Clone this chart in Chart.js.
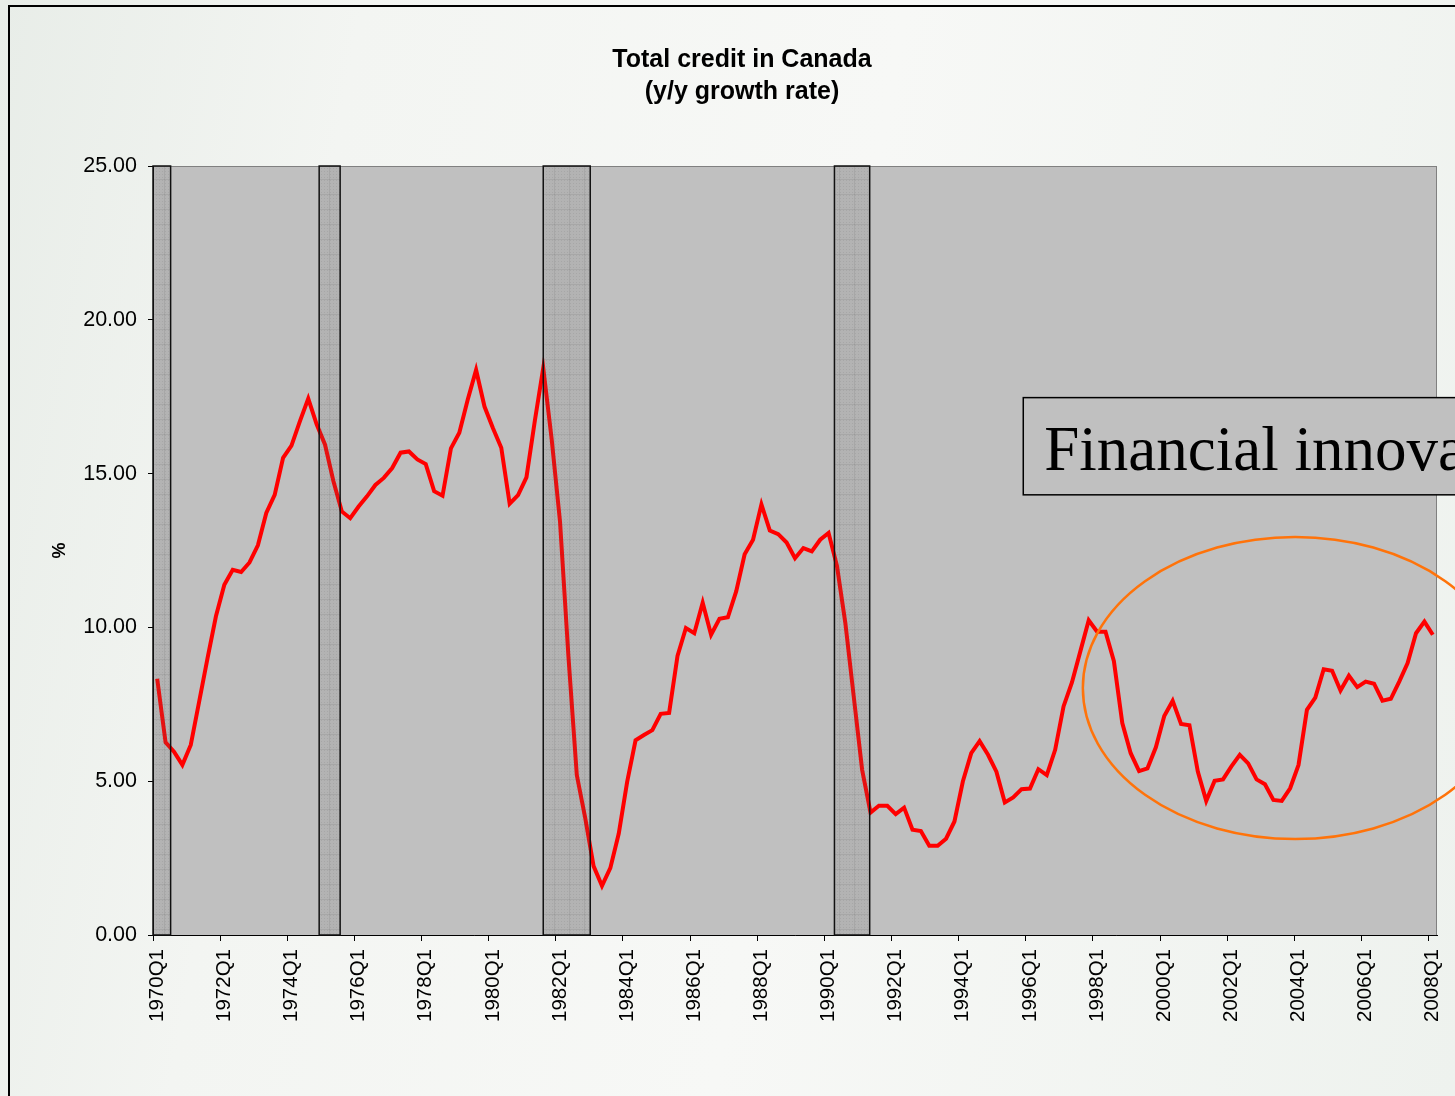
<!DOCTYPE html>
<html>
<head>
<meta charset="utf-8">
<title>Total credit in Canada</title>
<script src="https://cdn.jsdelivr.net/npm/chart.js@4.4.1/dist/chart.umd.min.js"></script>
<style>
  html, body { margin: 0; padding: 0; overflow: hidden; }
  body {
    width: 1455px;
    height: 1096px;
    background: linear-gradient(100deg, #e8ede8 0%, #f3f5f2 22%, #f7f8f6 55%, #eef2ee 100%);
  }
  #wrap { position: relative; width: 1455px; height: 1096px; }
</style>
</head>
<body>
<div id="wrap"><canvas id="creditChart" width="1455" height="1096"></canvas></div>
<script>
// quarterly axis, 1970Q1 .. 2008Q1
const startYear = 1970;
const endYear = 2008;
const quarters = [];
for (let y = startYear; y <= endYear; y++) {
  for (let q = 1; q <= 4; q++) {
    if (y === endYear && q > 1) break;
    quarters.push(y + "Q" + q);
  }
}

// total credit, y/y growth in %, one row per two years
const creditGrowth = [
  8.33, 6.26, 5.96, 5.53, 6.18, 7.59, 9.00, 10.36,
  11.39, 11.87, 11.80, 12.11, 12.67, 13.72, 14.31, 15.51,
  15.91, 16.70, 17.44, 16.60, 15.94, 14.75, 13.77, 13.55,
  13.93, 14.26, 14.63, 14.86, 15.18, 15.68, 15.72, 15.46,
  15.31, 14.43, 14.28, 15.82, 16.33, 17.40, 18.37, 17.18,
  16.48, 15.84, 14.02, 14.30, 14.88, 16.72, 18.43, 16.13,
  13.44, 9.07, 5.20, 3.81, 2.24, 1.60, 2.18, 3.30,
  4.98, 6.33, 6.50, 6.66, 7.19, 7.22, 9.07, 9.98,
  9.81, 10.80, 9.76, 10.28, 10.33, 11.18, 12.38, 12.85,
  14.00, 13.15, 13.03, 12.76, 12.25, 12.58, 12.47, 12.85,
  13.07, 12.00, 10.14, 7.75, 5.37, 3.98, 4.20, 4.20,
  3.93, 4.14, 3.42, 3.38, 2.90, 2.90, 3.13, 3.69,
  4.99, 5.91, 6.30, 5.86, 5.31, 4.31, 4.47, 4.74,
  4.76, 5.39, 5.20, 6.02, 7.43, 8.21, 9.22, 10.23,
  9.86, 9.86, 8.90, 6.89, 5.91, 5.33, 5.42, 6.10,
  7.12, 7.61, 6.86, 6.82, 5.31, 4.36, 5.01, 5.06,
  5.48, 5.86, 5.58, 5.06, 4.90, 4.39, 4.36, 4.77,
  5.53, 7.32, 7.72, 8.64, 8.59, 7.95, 8.43, 8.06,
  8.24, 8.17, 7.62, 7.68, 8.24, 8.84, 9.81, 10.19,
  9.76
];

// every second year gets a label
const tickLabels = quarters.filter((q, i) => i % 8 === 0);
const yTicks = [0, 5, 10, 15, 20, 25];

// recession periods, as positions on the quarter axis
const recessionStart = [-0.5, 19.3, 46.0, 80.7];
const recessionEnd = [1.6, 21.8, 51.6, 84.9];

const noteText = "Financial innovation";

// small tile for the hatched recession fill
function bandTile() {
  const t = document.createElement("canvas");
  t.width = 15; t.height = 15;
  const c = t.getContext("2d");
  c.fillStyle = "rgba(105,105,105,0.15)";
  c.fillRect(0, 0, 15, 15);
  c.fillStyle = "rgba(60,60,60,0.10)";
  c.fillRect(14, 0, 1, 15);
  c.fillRect(0, 14, 15, 1);
  for (let i = 0; i < 15; i += 3) {
    for (let j = 0; j < 15; j += 3) c.fillRect(i, j, 1, 1);
  }
  return t;
}

const plotBackdrop = {
  id: "plotBackdrop",
  beforeDraw(chart) {
    const { ctx, chartArea: a } = chart;
    ctx.save();
    ctx.strokeStyle = "#000";
    ctx.lineWidth = 2;
    ctx.strokeRect(9, 6, 1700, 1300);
    ctx.fillStyle = "#c0c0c0";
    ctx.fillRect(a.left, a.top, a.width, a.height);
    ctx.strokeStyle = "#808080";
    ctx.lineWidth = 1;
    ctx.strokeRect(a.left + 0.5, a.top + 0.5, a.width - 1, a.height);
    ctx.restore();
  },
  afterDatasetsDraw(chart) {
    const { ctx, chartArea: a, scales: { x } } = chart;
    const pat = ctx.createPattern(bandTile(), "repeat");
    ctx.save();
    recessionStart.forEach((s, k) => {
      const x0 = x.getPixelForValue(s);
      const x1 = x.getPixelForValue(recessionEnd[k]);
      ctx.fillStyle = pat;
      ctx.fillRect(x0, a.top, x1 - x0, a.height);
      ctx.strokeStyle = "#111";
      ctx.lineWidth = 1.5;
      ctx.strokeRect(x0, a.top, x1 - x0, a.height);
    });
    ctx.restore();
  },
  afterDraw(chart) {
    const { ctx, scales: { x, y } } = chart;
    ctx.save();
    // callout box, anchored in axis units
    const bx = x.getPixelForValue(103.2);
    const bTop = y.getPixelForValue(17.47);
    const bBot = y.getPixelForValue(14.31);
    ctx.fillStyle = "#c0c0c0";
    ctx.fillRect(bx, bTop, 600, bBot - bTop);
    ctx.strokeStyle = "#000";
    ctx.lineWidth = 1.5;
    ctx.strokeRect(bx, bTop, 600, bBot - bTop);
    ctx.fillStyle = "#000";
    ctx.font = "63px 'Liberation Serif', 'Times New Roman', serif";
    ctx.textBaseline = "alphabetic";
    ctx.fillText(noteText, bx + 21, bBot - 25);

    // ring round the recent period
    const cx = x.getPixelForValue(135.6);
    const cy = y.getPixelForValue(8.03);
    const rx = Math.abs(x.getPixelForValue(135.6 + 25.3) - cx);
    const ry = Math.abs(y.getPixelForValue(8.03 + 4.91) - cy);
    ctx.beginPath();
    ctx.ellipse(cx, cy, rx, ry, 0, 0, Math.PI * 2);
    ctx.strokeStyle = "#ff730a";
    ctx.lineWidth = 2.5;
    ctx.stroke();
    ctx.restore();
  }
};

Chart.defaults.font.family = "'Liberation Sans', Arial, sans-serif";
Chart.defaults.color = "#000";

new Chart(document.getElementById("creditChart").getContext("2d"), {
  type: "line",
  data: {
    labels: quarters,
    datasets: [{
      label: "Total credit",
      data: creditGrowth,
      borderColor: "#ff0000",
      borderWidth: 4,
      pointRadius: 0,
      tension: 0,
      fill: false
    }]
  },
  options: {
    responsive: false,
    animation: false,
    layout: { padding: { left: 47, right: 18, top: 44, bottom: 0 } },
    plugins: {
      legend: { display: false },
      tooltip: { enabled: false },
      title: {
        display: true,
        text: ["Total credit in Canada", "(y/y growth rate)"],
        color: "#000",
        font: { size: 25, weight: "bold", lineHeight: 1.28 },
        padding: { top: 0, bottom: 58 }
      }
    },
    scales: {
      x: {
        type: "category",
        offset: true,
        grid: {
          offset: true,
          drawOnChartArea: false,
          drawTicks: true,
          tickLength: 6,
          color: (c) => (c.index % 8 === 0 ? "#000" : "rgba(0,0,0,0)")
        },
        border: { display: true, color: "#000", width: 1 },
        ticks: {
          autoSkip: false,
          minRotation: 90,
          maxRotation: 90,
          padding: 8,
          font: { size: 20.5 },
          callback: function (v, i) {
            const lab = this.getLabelForValue(v);
            return tickLabels.includes(lab) ? lab : "";
          }
        },
        afterFit: (s) => {
          s.height = 161;
          s.paddingLeft = 0;
          s.paddingRight = 0;
        }
      },
      y: {
        min: 0,
        max: 25,
        afterBuildTicks: (s) => { s.ticks = yTicks.map((v) => ({ value: v })); },
        grid: { drawOnChartArea: false, tickLength: 5, color: "#000" },
        border: { display: true, color: "#000", width: 1 },
        ticks: {
          padding: 11,
          font: { size: 21.5 },
          callback: (v) => Number(v).toFixed(2)
        },
        title: {
          display: true,
          text: "%",
          font: { size: 18, weight: "bold" },
          padding: { top: 2, bottom: 0 }
        },
        afterFit: (s) => { s.width = 106; }
      }
    }
  },
  plugins: [plotBackdrop]
});
</script>
</body>
</html>
